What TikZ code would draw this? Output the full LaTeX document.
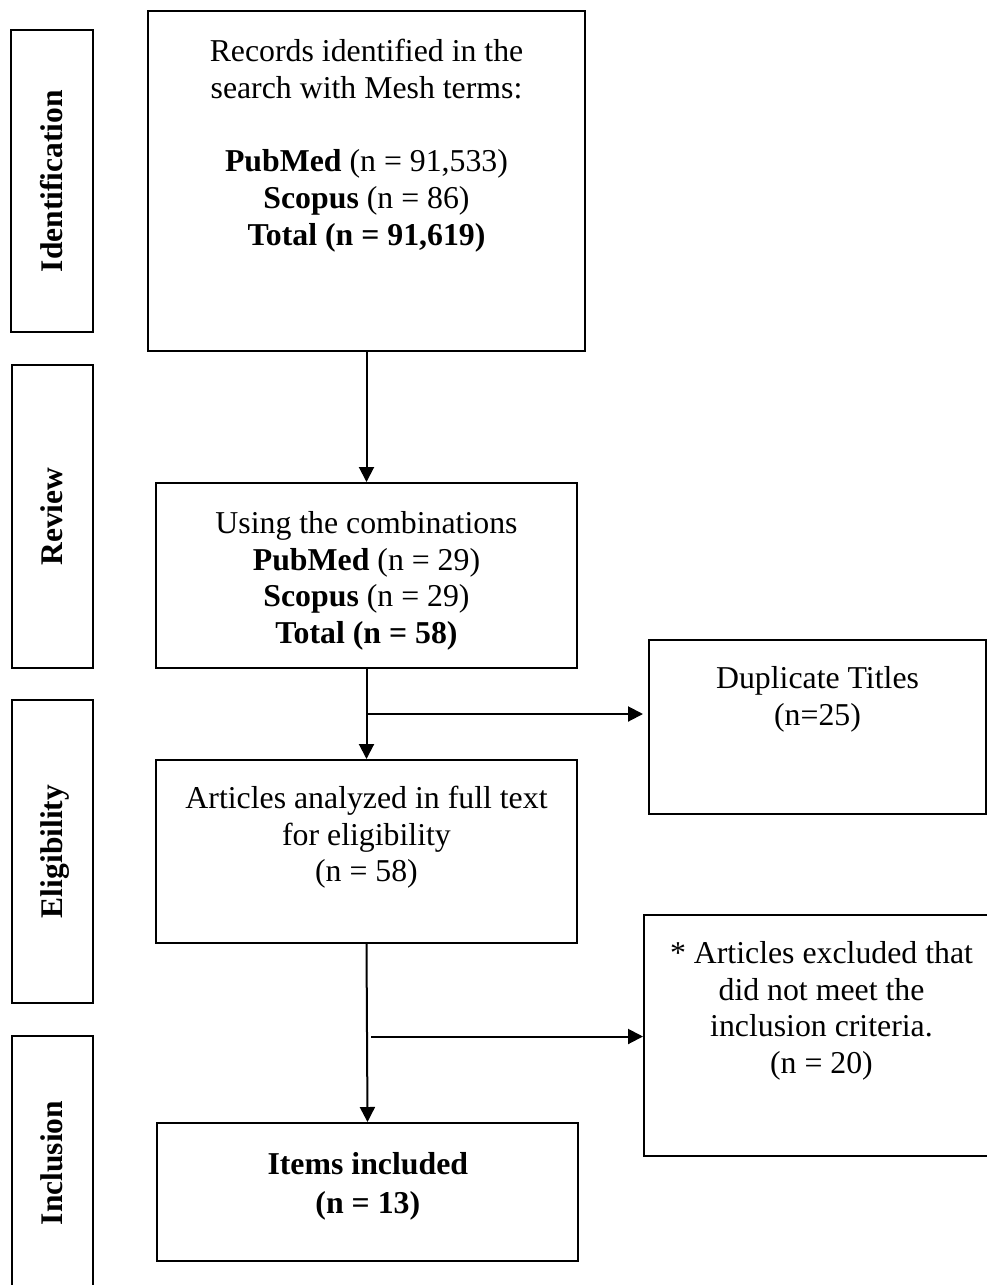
\documentclass[tikz,border=0pt]{standalone}
\usepackage{fontspec}
\setmainfont{Liberation Serif}
\usetikzlibrary{arrows.meta}
\begin{document}
\begin{tikzpicture}[x=1pt,y=-1pt,
  box/.style={draw, line width=2pt, inner sep=0pt},
  side/.style={draw, line width=2pt, inner sep=0pt, rotate=90,
    font=\fontsize{31.5}{36}\selectfont\bfseries, text height=22pt, text depth=2pt},
  txt/.style={inner sep=0pt, align=center, anchor=north,
    font=\fontsize{31.8}{36.8}\selectfont},
  arr/.style={line width=2pt, -{Triangle[length=15pt,width=15pt]}}]
\useasboundingbox (0,0) rectangle (987,1285);
\fill[white] (0,0) rectangle (987,1285);

% side labels
\node[side, minimum width=302pt, minimum height=81.5pt] (ident) at (52,181) {Identification};
\node[side, minimum width=303pt, minimum height=81pt] (review) at (52.5,516.5) {Review};
\node[side, minimum width=303pt, minimum height=81pt] (elig) at (52.5,851.5) {Eligibility};
\node[side, minimum width=254pt, minimum height=81pt] (incl) at (52.5,1163) {Inclusion};

% boxes
\node[box, minimum width=437pt, minimum height=340pt] (b1) at (366.5,181) {};
\node[box, minimum width=421pt, minimum height=185pt] (b2) at (366.5,575.5) {};
\node[box, minimum width=421pt, minimum height=183pt] (b3) at (366.5,851.5) {};
\node[box, minimum width=421pt, minimum height=138pt] (b4) at (367.5,1192) {};
\node[box, minimum width=337pt, minimum height=174pt] (dup) at (817.5,727) {};
\node[box, minimum width=360pt, minimum height=241pt] (excl) at (824,1035.5) {};

% texts
\node[txt] (t1) at (366.5,37) {\rule{0pt}{24pt}Records identified in the\\search with Mesh terms:\\[36.8pt]
  \textbf{PubMed} (n = 91,533)\\\textbf{Scopus} (n = 86)\\\textbf{Total (n = 91,619)}};
\node[txt] (t2) at (366.5,509) {\rule{0pt}{24pt}Using the combinations\\
  \textbf{PubMed} (n = 29)\\\textbf{Scopus} (n = 29)\\\textbf{Total (n = 58)}};
\node[txt] (t3) at (366.5,784) {\rule{0pt}{24pt}Articles analyzed in full text\\for eligibility\\(n = 58)};
\node[txt] (t4) at (367.8,1150) {\rule{0pt}{24pt}\textbf{Items included}\\[2pt]\textbf{(n = 13)}};
\node[txt] (t5) at (817.5,664) {\rule{0pt}{24pt}Duplicate Titles\\(n=25)};
\node[txt] (t6) at (821.5,939) {\rule{0pt}{24pt}* Articles excluded that\\did not meet the\\inclusion criteria.\\(n = 20)};

% connectors
\draw[arr] (b1.south) -- (b2.north);
\draw[arr] (b2.south) -- (b3.north);
\coordinate (h1) at (366.5,714);
\draw[arr, shorten >=5pt] (h1) -- (h1 -| dup.west);
\draw[arr] (b3.south) -- (b4.north);
\coordinate (h2) at (371,1036.5);
\draw[arr] (h2) -- (h2 -| excl.west);
\end{tikzpicture}
\end{document}
